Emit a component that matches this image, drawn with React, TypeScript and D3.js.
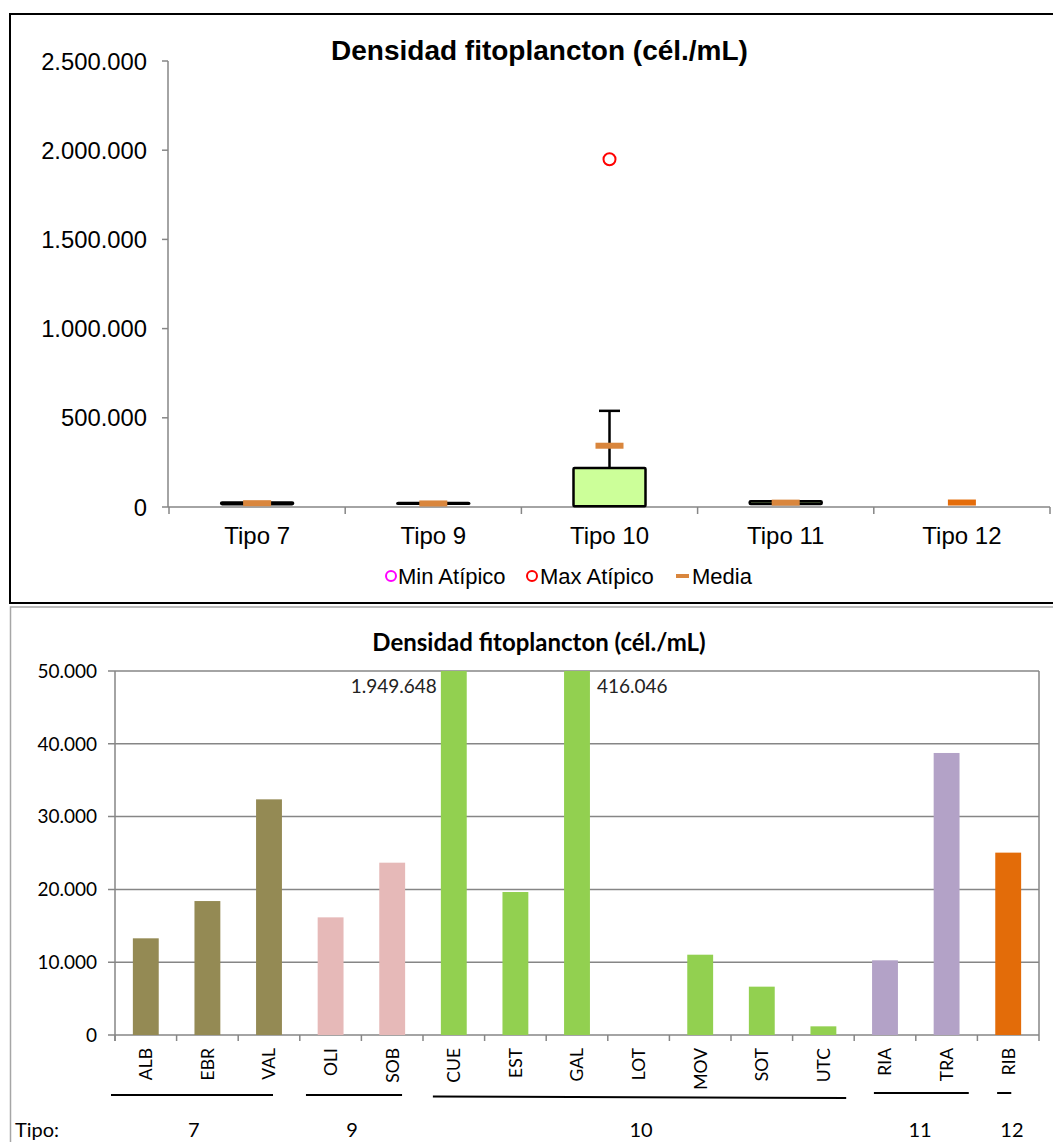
import React from "react";
import * as d3 from "d3";

// ---------- Top chart data (box plot) ----------
const tipos = ["Tipo 7", "Tipo 9", "Tipo 10", "Tipo 11", "Tipo 12"];
const boxQ1 = [15850, 18100, 3900, 17350, null];
const boxQ3 = [25400, 21800, 218000, 31650, null];
const whiskerTop = [null, null, 539000, null, null];
const medias = [21350, 19950, 343500, 24500, 25050];
const maxAtipico = [null, null, 1949648, null, null];
const topTicks = [0, 500000, 1000000, 1500000, 2000000, 2500000];

// ---------- Bottom chart data (bars) ----------
const sites = ["ALB", "EBR", "VAL", "OLI", "SOB", "CUE", "EST", "GAL", "LOT", "MOV", "SOT", "UTC", "RIA", "TRA", "RIB"];
const siteValues = [13280, 18400, 32370, 16160, 23670, 1949648, 19640, 416046, 0, 11030, 6640, 1190, 10260, 38740, 25050];
const siteTipo = ["7", "7", "7", "9", "9", "10", "10", "10", "10", "10", "10", "10", "11", "11", "12"];
const tipoColors: Record<string, string> = { "7": "#948A54", "9": "#E6B9B8", "10": "#92D050", "11": "#B3A2C7", "12": "#E36C09" };
const bottomTicks = [0, 10000, 20000, 30000, 40000, 50000];
const groupLabels = ["7", "9", "10", "11", "12"];
const groupLabelPos = [1.28, 3.85, 8.54, 13.07, 14.56];
const groupLineFrom = [-0.065, 3.1, 5.16, 12.32, 14.32];
const groupLineTo = [2.565, 4.66, 11.87, 13.86, 14.55];

const locale = d3.formatLocale({ decimal: ",", thousands: ".", grouping: [3], currency: ["", ""] });
const fmt = locale.format(",");

const ARIAL = "'Liberation Sans', Arial, sans-serif";
const CAL = "Lato, 'Open Sans', sans-serif";

export default function App() {
  // Top scales
  const yT = d3.scaleLinear().domain([0, 2500000]).range([507, 61]);
  const xT = d3.scaleBand().domain(tipos).range([169, 1050]).padding(0);
  const boxW = 72;
  const meanW = 28;
  const capW = 21;

  // Bottom scales
  const yB = d3.scaleLinear().domain([0, 50000]).range([1035, 671]).clamp(true);
  const xB = d3.scaleBand().domain(sites).range([115, 1039]).padding(0);
  const step = xB.step();
  const barW = step * 0.42;
  const xIdx = (v: number) => 115 + v * step;

  const axisGrey = "#868686";

  return (
    <svg width={1053} height={1142} style={{ position: "absolute", left: 0, top: 0, display: "block", background: "#fff" }}>
      {/* ---------------- TOP PANEL ---------------- */}
      <rect x={10} y={14} width={1100} height={589} fill="#fff" stroke="#000" strokeWidth={2} />
      <text x={539.5} y={60} textAnchor="middle" fontFamily={ARIAL} fontWeight="bold" fontSize={28} fill="#000">
        Densidad fitoplancton (cél./mL)
      </text>
      {/* y axis */}
      <line x1={168} x2={168} y1={yT(2500000)} y2={yT(0)} stroke={axisGrey} strokeWidth={1.5} />
      {topTicks.map((t) => (
        <g key={t}>
          <line x1={162} x2={168} y1={yT(t)} y2={yT(t)} stroke={axisGrey} strokeWidth={1.5} />
          <text x={147} y={yT(t)} dy="0.36em" textAnchor="end" fontFamily={ARIAL} fontSize={23.8} fill="#000">
            {fmt(t)}
          </text>
        </g>
      ))}
      {/* x axis */}
      <line x1={168} x2={1050} y1={yT(0)} y2={yT(0)} stroke={axisGrey} strokeWidth={1.5} />
      {[...tipos.map((c) => xT(c) as number), 1050].map((x, i) => (
        <line key={i} x1={x} x2={x} y1={yT(0)} y2={yT(0) + 7} stroke={axisGrey} strokeWidth={1.5} />
      ))}
      {tipos.map((c) => (
        <text key={c} x={(xT(c) as number) + xT.bandwidth() / 2} y={543.5} textAnchor="middle" fontFamily={ARIAL} fontSize={24} fill="#000">
          {c}
        </text>
      ))}
      {/* boxes */}
      {tipos.map((c, i) => {
        const cx = (xT(c) as number) + xT.bandwidth() / 2;
        const q1 = boxQ1[i];
        const q3 = boxQ3[i];
        const wt = whiskerTop[i];
        return (
          <g key={c}>
            {wt != null && q3 != null && (
              <g>
                <line x1={cx} x2={cx} y1={yT(q3)} y2={yT(wt)} stroke="#000" strokeWidth={2.5} />
                <line x1={cx - capW / 2} x2={cx + capW / 2} y1={yT(wt)} y2={yT(wt)} stroke="#000" strokeWidth={2.5} />
              </g>
            )}
            {q1 != null && q3 != null && (
              <rect
                x={cx - boxW / 2}
                y={yT(q3)}
                width={boxW}
                height={yT(q1) - yT(q3)}
                fill="#CCFF99"
                stroke="#000"
                strokeWidth={2.5}
                rx={1}
              />
            )}
            <rect
              x={cx - meanW / 2}
              y={yT(medias[i]) - 3}
              width={meanW}
              height={6}
              fill={i === 4 ? "#E46C0A" : "#D9863D"}
            />
            {maxAtipico[i] != null && (
              <circle cx={cx} cy={yT(maxAtipico[i] as number)} r={6} fill="none" stroke="#FF0000" strokeWidth={2} />
            )}
          </g>
        );
      })}
      {/* legend */}
      <circle cx={391} cy={576} r={5} fill="none" stroke="#FF00FF" strokeWidth={2} />
      <text x={398} y={584} fontFamily={ARIAL} fontSize={22} fill="#000">Min Atípico</text>
      <circle cx={532} cy={576} r={5} fill="none" stroke="#FF0000" strokeWidth={2} />
      <text x={540} y={584} fontFamily={ARIAL} fontSize={22} fill="#000">Max Atípico</text>
      <rect x={676} y={574} width={13} height={4} fill="#D9863D" />
      <text x={692} y={584} fontFamily={ARIAL} fontSize={22} fill="#000">Media</text>

      {/* ---------------- BOTTOM PANEL ---------------- */}
      <rect x={10.5} y={607} width={1100} height={600} fill="#fff" stroke="#A6A6A6" strokeWidth={1.5} />
      <text x={539} y={651} textAnchor="middle" fontFamily={CAL} fontWeight="bold" fontSize={24} fill="#000">
        Densidad fitoplancton (cél./mL)
      </text>
      {/* gridlines + y labels */}
      {bottomTicks.map((t) => (
        <g key={t}>
          <line x1={108} x2={1039} y1={yB(t)} y2={yB(t)} stroke={axisGrey} strokeWidth={1.5} />
          <text x={97} y={yB(t)} dy="0.36em" textAnchor="end" fontFamily={CAL} fontSize={19} fill="#000">
            {fmt(t)}
          </text>
        </g>
      ))}
      <line x1={115} x2={115} y1={yB(50000)} y2={yB(0) + 6} stroke={axisGrey} strokeWidth={1.5} />
      <line x1={1039} x2={1039} y1={yB(50000)} y2={yB(0) + 6} stroke={axisGrey} strokeWidth={1.5} />
      {sites.map((s) => (
        <line key={s} x1={xB(s) as number} x2={xB(s) as number} y1={yB(0)} y2={yB(0) + 6} stroke={axisGrey} strokeWidth={1.5} />
      ))}
      {/* bars */}
      {sites.map((s, i) => {
        const cx = (xB(s) as number) + step / 2;
        const v = siteValues[i];
        if (v <= 0) return null;
        return (
          <rect key={s} x={cx - barW / 2} y={yB(v)} width={barW} height={yB(0) - yB(v)} fill={tipoColors[siteTipo[i]]} />
        );
      })}
      {/* data labels for clipped bars */}
      {sites.map((s, i) => {
        const v = siteValues[i];
        if (v <= 50000) return null;
        const cx = (xB(s) as number) + step / 2;
        const left = s === "CUE";
        return (
          <text
            key={s}
            x={left ? cx - barW / 2 - 4 : cx + barW / 2 + 7}
            y={693}
            textAnchor={left ? "end" : "start"}
            fontFamily={CAL}
            fontSize={19}
            fill="#222"
          >
            {fmt(v)}
          </text>
        );
      })}
      {/* category labels */}
      {sites.map((s) => {
        const cx = (xB(s) as number) + step / 2;
        return (
          <text
            key={s}
            transform={`translate(${cx},1048) rotate(-90)`}
            dy="0.36em"
            textAnchor="end"
            fontFamily={CAL}
            fontSize={17.5}
            fill="#000"
          >
            {s}
          </text>
        );
      })}
      {/* group lines */}
      {groupLabels.map((g, i) => {
        const y = g === "10" ? 1096.5 : g === "7" || g === "9" ? 1095 : 1093;
        return (
          <line
            key={g}
            x1={xIdx(groupLineFrom[i])}
            x2={xIdx(groupLineTo[i])}
            y1={y}
            y2={g === "10" ? y + 1.5 : y}
            stroke="#000"
            strokeWidth={2}
          />
        );
      })}
      <text x={15} y={1137} fontFamily={CAL} fontSize={20} fill="#000">Tipo:</text>
      {groupLabels.map((g, i) => (
        <text key={g} x={xIdx(groupLabelPos[i])} y={1137} textAnchor="middle" fontFamily={CAL} fontSize={20} fill="#000">
          {g}
        </text>
      ))}
    </svg>
  );
}
